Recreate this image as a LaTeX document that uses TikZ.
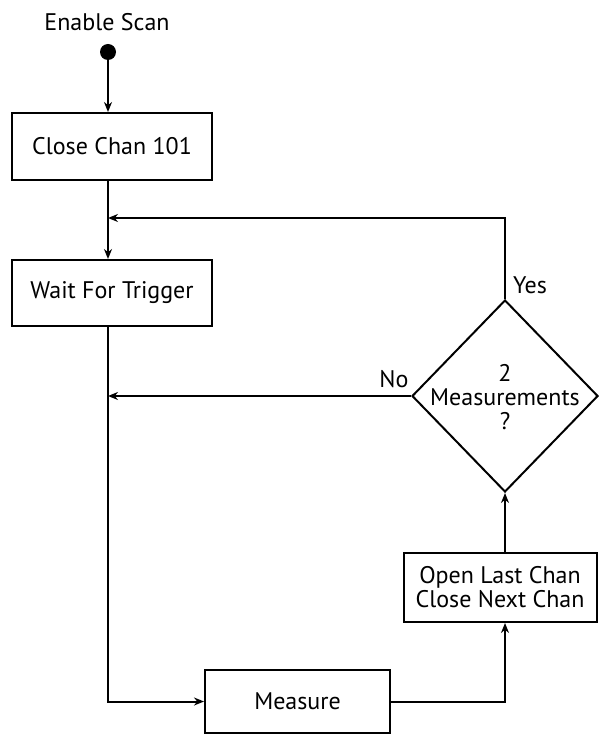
\documentclass[tikz,border=0pt]{standalone}
\usepackage{fontspec}
\setmainfont{PT Sans}
\usetikzlibrary{shapes.geometric,arrows.meta}
\begin{document}
\begin{tikzpicture}[x=1pt,y=-1pt,
  every node/.style={font=\fontsize{24}{24}\selectfont},
  box/.style={draw,line width=2pt,rectangle,inner sep=0pt},
  conn/.style={line width=2pt},
  arr/.style={conn,-{Stealth[length=10pt,width=8pt]}}]
\useasboundingbox (0,0) rectangle (598,735);
\node (lbl) at (107,22) {Enable Scan};
\node[circle,fill=black,minimum size=16pt,inner sep=0pt] (dot) at (108,52) {};
\node[box,minimum width=200pt,minimum height=67pt] (close) at (112,146.5) {Close Chan 101};
\node[box,minimum width=200pt,minimum height=66pt] (wait) at (112,293) {Wait For Trigger};
\node[box,minimum width=185pt,minimum height=63pt] (meas) at (297.5,701.5) {Measure};
\node[box,minimum width=193pt,minimum height=69pt,align=center] (open) at (500,587.5) {Open Last Chan\\Close Next Chan};
\node[diamond,draw,line width=2pt,minimum width=186pt,minimum height=192pt,inner sep=0pt] (dec) at (505,396) {};
\node[align=center] (dectxt) at (505,397) {2\\Measurements\\?};
\node (yes) at (530,285) {Yes};
\node (no) at (394,379) {No};
\coordinate (j1) at (108,218);
\draw[arr] (dot) -- (dot |- close.north);
\draw[arr] (dot |- close.south) -- (dot |- wait.north);
\draw[arr] (dec.north) |- (j1);
\draw[arr] (dec.west) -- (dec.west -| dot);
\draw[arr] (dot |- wait.south) |- (meas.west);
\draw[arr] (meas.east) -| (dec.south |- open.south);
\draw[arr] (dec.south |- open.north) -- (dec.south);
\end{tikzpicture}
\end{document}
